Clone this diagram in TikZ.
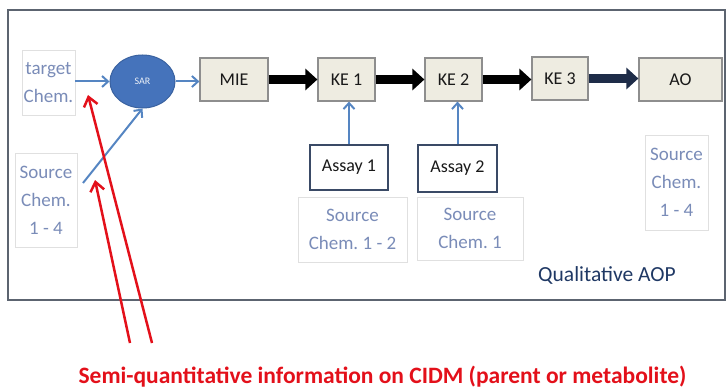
\documentclass[tikz,border=0pt]{standalone}
\usepackage{fontspec}
\setmainfont{Carlito}
\usetikzlibrary{arrows.meta,shapes.geometric}
\definecolor{arrblue}{HTML}{5585C2}
\definecolor{sarfill}{HTML}{4573BB}
\definecolor{sarline}{HTML}{3A62A0}
\definecolor{beige}{HTML}{EEECE1}
\definecolor{beigeline}{HTML}{8E8E8E}
\definecolor{srctext}{HTML}{7A8CB8}
\definecolor{srcline}{HTML}{E0E0E0}
\definecolor{assayline}{HTML}{3A4A66}
\definecolor{framecol}{HTML}{5C6470}
\definecolor{redcol}{HTML}{E3101A}
\definecolor{navy}{HTML}{1F3864}
\definecolor{darknavy}{HTML}{1E2C48}
\tikzset{
  framebox/.style={draw=framecol,line width=1.8pt},
  srcbox/.style={draw=srcline,fill=white,line width=0.9pt,text=srctext,align=center,
    font=\frenchspacing\fontsize{19}{28}\selectfont,inner sep=0pt},
  kebox/.style={draw=beigeline,fill=beige,line width=1.2pt,text=black!90,
    font=\fontsize{18}{22}\selectfont,inner sep=0pt},
  assaybox/.style={draw=assayline,fill=white,line width=1.8pt,text=black!90,
    font=\fontsize{18}{22}\selectfont,inner sep=0pt},
  bluearrow/.style={draw=arrblue,line width=2pt,-{Straight Barb[length=6pt,width=11pt]}},
  thickarrow/.style={line width=9pt,-{Triangle[length=12pt,width=21pt]}},
  redarrow/.style={draw=redcol,line width=2.5pt,-{Straight Barb[length=9pt,width=14pt]}},
}
\begin{document}
\begin{tikzpicture}[x=1pt,y=-1pt]
\useasboundingbox (0,0) rectangle (727,390);
\draw[framebox] (8,10) rectangle (725,300);

% source / target boxes
\node[srcbox,minimum width=53pt,minimum height=65pt] (target) at (48.5,82.5) {target\\Chem.};
\node[srcbox,minimum width=62pt,minimum height=94pt] (srcL) at (46,200) {Source\\Chem.\\1 - 4};
\node[srcbox,minimum width=109pt,minimum height=65pt] (src12) at (352.5,229.5) {Source\\Chem. 1 - 2};
\node[srcbox,minimum width=106pt,minimum height=63pt] (src1) at (470,228.5) {Source\\Chem. 1};
\node[srcbox,minimum width=63pt,minimum height=95pt] (srcR) at (676.5,182.5) {Source\\Chem.\\1 - 4};

% SAR
\node[ellipse,draw=sarline,fill=sarfill,line width=1pt,minimum width=65pt,minimum height=53pt,
  inner sep=0pt,text=white!90!sarfill,font=\fontsize{10}{12}\selectfont] (sar) at (142.5,81.5) {SAR};

% chain
\node[kebox,minimum width=68pt,minimum height=43pt] (mie) at (234,79.5) {MIE};
\node[kebox,minimum width=57pt,minimum height=43pt] (ke1) at (346.5,79.5) {KE 1};
\node[kebox,minimum width=57pt,minimum height=43pt] (ke2) at (453.5,79.5) {KE 2};
\node[kebox,minimum width=56pt,minimum height=43pt] (ke3) at (560,78.5) {KE 3};
\node[kebox,minimum width=83pt,minimum height=43pt] (ao) at (680.5,79.5) {AO};

% assays
\node[assaybox,minimum width=78pt,minimum height=45pt] (assay1) at (349,167.5) {Assay 1};
\node[assaybox,minimum width=79pt,minimum height=47pt] (assay2) at (457.5,168.5) {Assay 2};

% labels
\node[text=navy,font=\fontsize{21.5}{24}\selectfont] (qaop) at (607,275) {Qualitative AOP};
\node[text=redcol,font=\bfseries\fontsize{23.5}{26}\selectfont] (semi) at (382.5,377) {Semi-quantitative information on CIDM (parent or metabolite)};

% blue connectors
\draw[bluearrow] (target.east |- sar.west) -- (sar.west);
\coordinate (srcstart) at (83,183);
\draw[bluearrow] (srcstart) -- (sar.south);
\draw[bluearrow] (sar.east) -- (mie.west |- sar.east);
\draw[bluearrow] (assay1.north) -- (assay1.north |- ke1.south);
\draw[bluearrow] (assay2.north) -- (assay2.north |- ke2.south);

% thick chain arrows
\draw[thickarrow,black] (mie.east) -- (ke1.west);
\draw[thickarrow,black] (ke1.east) -- (ke2.west);
\draw[thickarrow,black] (ke2.east) -- (ke3.west |- ke2.east);
\draw[thickarrow,darknavy] (ke3.east) -- (ao.west |- ke3.east);

% red arrows
\coordinate (rA0) at (152,343);
\coordinate (rA1) at (88,95);
\coordinate (rB0) at (130,343);
\coordinate (rB1) at (95,180);
\draw[redarrow] (rA0) -- (rA1);
\draw[redarrow] (rB0) -- (rB1);
\end{tikzpicture}
\end{document}
